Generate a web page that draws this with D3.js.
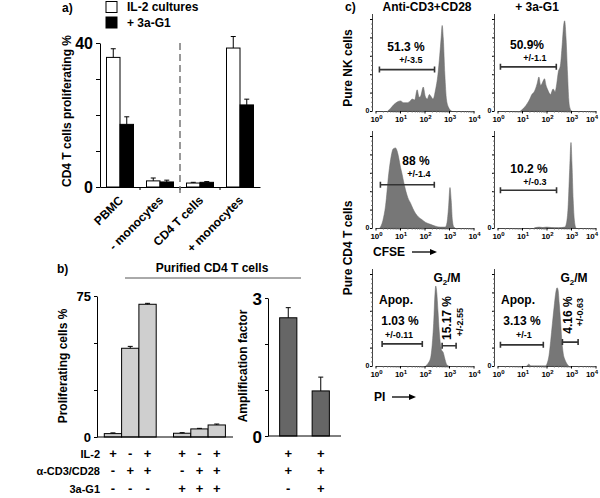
<!DOCTYPE html>
<html><head><meta charset="utf-8">
<script src="https://cdn.jsdelivr.net/npm/d3@7"></script>
<style>
body{margin:0;background:#fff}
svg{display:block}
text{font-family:"Liberation Sans",Arial,sans-serif;font-weight:bold;fill:#000}
</style>
</head><body>
<svg id="c" width="600" height="498"></svg>
<script>
// ---------- DATA ----------
// panel a
const groupsA = ["PBMC", "- monocytes", "CD4 T cells", "+ monocytes"];
const seriesA = ["IL-2 cultures", "+ 3a-G1"];
const il2Values = [36.0, 1.7, 1.1, 38.6];
const il2Errors = [2.4, 0.8, 0.2, 3.2];
const g1Values = [17.4, 1.4, 1.3, 22.8];
const g1Errors = [2.1, 0.5, 0.2, 1.6];
const ticksA = [0, 10, 20, 30, 40];
const tickLabelsA = ["0", "", "", "", "40"];
const yLabelA = "CD4 T cells proliferating %";

// panel b
const condNames = ["IL-2", "α-CD3/CD28", "3a-G1"];
const condIL2 = ["+", "-", "+", "+", "-", "+"];
const condCD3 = ["-", "+", "+", "-", "+", "+"];
const condG1  = ["-", "-", "-", "+", "+", "+"];
const prolifValues = [1.8, 47.2, 70.6, 2.0, 4.3, 6.4];
const prolifErrors = [0.4, 1.0, 0.5, 0.3, 0.3, 0.5];
const ticksB = [0, 25, 50, 75];
const tickLabelsB = ["0", "", "", "75"];
const ampIL2 = ["+", "+"];
const ampCD3 = ["+", "+"];
const ampG1  = ["-", "+"];
const ampValues = [2.57, 0.98];
const ampErrors = [0.22, 0.30];
const ticksAmp = [0, 1, 2, 3];
const tickLabelsAmp = ["0", "", "", "3"];

// panel c : histograms, [log10(fluorescence), relative count]
const nkCtrl = [[0.5,0],[0.62,3],[0.75,7],[0.9,10],[1.02,11],[1.15,9],[1.29,9],[1.42,11],[1.5,13],[1.6,12],[1.7,23],[1.78,15],[1.84,16],[1.95,26],[2.03,16],[2.11,13],[2.2,18],[2.26,16],[2.35,13],[2.45,23],[2.55,40],[2.62,60],[2.68,80],[2.72,93],[2.77,78],[2.83,40],[2.9,12],[2.98,4],[3.1,0]];
const nkG1 = [[0.94,0],[1.1,4],[1.21,8],[1.32,13],[1.4,18],[1.48,20],[1.55,24],[1.62,30],[1.69,37],[1.76,28],[1.82,30],[1.92,35],[1.98,28],[2.05,23],[2.16,18],[2.27,24],[2.35,21],[2.42,30],[2.48,42],[2.57,50],[2.64,72],[2.7,93],[2.74,98],[2.8,78],[2.86,40],[2.91,12],[2.96,3],[3.02,0]];
const cd4Ctrl = [[0.18,0],[0.3,8],[0.41,24],[0.54,59],[0.64,78],[0.72,86],[0.82,87],[0.9,82],[0.95,76],[1.02,66],[1.09,58],[1.15,50],[1.22,42],[1.32,33],[1.43,27],[1.53,21],[1.63,16],[1.75,12],[1.9,9],[2.05,6],[2.24,4],[2.45,2],[2.65,1],[2.85,1],[2.92,6],[2.98,22],[3.04,44],[3.09,30],[3.14,8],[3.2,1],[3.25,0]];
const cd4G1 = [[1.5,0],[1.7,1],[1.85,0.5],[2.0,1],[2.2,0.5],[2.5,0.3],[2.75,1],[2.82,6],[2.88,22],[2.94,60],[3.0,93],[3.04,70],[3.09,30],[3.14,8],[3.2,0]];
const piCtrl = [[2.05,0],[2.15,3],[2.25,9],[2.32,25],[2.38,50],[2.42,75],[2.46,87],[2.5,80],[2.55,60],[2.6,38],[2.65,24],[2.7,17],[2.76,15],[2.82,9],[2.86,5],[2.92,1],[2.98,0]];
const piG1 = [[1.2,0],[1.28,2],[1.36,0],[1.96,0],[2.04,4],[2.1,11],[2.17,27],[2.24,46],[2.31,64],[2.37,78],[2.43,85],[2.47,83],[2.52,68],[2.57,50],[2.62,30],[2.68,14],[2.75,7],[2.82,3],[2.9,0]];
const decades = [0, 1, 2, 3, 4];
const colTitles = ["Anti-CD3+CD28", "+ 3a-G1"];
const rowTitles = ["Pure NK cells", "Pure CD4 T cells"];
// gates [from, to] in log10 units
const nkCtrlGate = [0.16, 2.41], nkG1Gate = [0.12, 2.40];
const cd4CtrlGate = [0.2, 2.4], cd4G1Gate = [0.12, 2.41];
const piCtrlApop = [0.27, 1.91], piCtrlG2 = [2.72, 3.29];
const piG1Apop = [0.12, 1.87], piG1G2 = [2.65, 3.29];
const nkCtrlText = ["51.3 %", "+/-3.5"], nkG1Text = ["50.9%", "+/-1.1"];
const cd4CtrlText = ["88 %", "+/-1.4"], cd4G1Text = ["10.2 %", "+/-0.3"];
const piCtrlText = ["1.03 %", "+/-0.11", "15.17 %", "+/-2.55"];
const piG1Text = ["3.13 %", "+/-1", "4.16 %", "+/-0.63"];

// ---------- DRAW ----------
const svg = d3.select("#c");
function styleAxis(g, fs) {
  g.attr("font-family", null).attr("font-size", null);
  g.selectAll("path,line").attr("stroke", "#000");
  g.selectAll("text").style("font-size", fs + "px");
}
function errBar(g, cx, yTop, yErr, w, color) {
  g.append("path").attr("d", `M${cx},${yTop}V${yErr}M${cx - w},${yErr}H${cx + w}`)
    .attr("stroke", color || "#000").attr("fill", "none");
}

// ===== panel a =====
const A = svg.append("g");
A.append("text").attr("x", 62).attr("y", 12).style("font-size", "12px").text("a)");
seriesA.forEach((s, i) => {
  A.append("rect").attr("x", 106).attr("y", 1.5 + i * 15.5).attr("width", 11).attr("height", 11)
    .attr("fill", i ? "#000" : "#fff").attr("stroke", "#000");
  A.append("text").attr("x", 127).attr("y", 11 + i * 15.5).style("font-size", "12px").text(s);
});
const xA = d3.scaleBand().domain(groupsA).range([100, 260]);
const xASub = d3.scaleBand().domain(seriesA).range([6.5, 33.5]);
const yA = d3.scaleLinear().domain([0, 40]).range([187, 43]);
[[il2Values, il2Errors, "#fff"], [g1Values, g1Errors, "#000"]].forEach(([vals, errs, fill], si) => {
  const s = seriesA[si];
  groupsA.forEach((gname, i) => {
    const x0 = xA(gname) + xASub(s), w = xASub.bandwidth();
    A.append("rect").attr("x", x0).attr("width", w).attr("y", yA(vals[i]))
      .attr("height", yA(0) - yA(vals[i])).attr("fill", fill).attr("stroke", "#000");
    errBar(A, x0 + w / 2, yA(vals[i]), yA(vals[i] + errs[i]), 2.5);
  });
});
const yAxA = A.append("g").attr("transform", "translate(100,0)")
  .call(d3.axisLeft(yA).tickValues(ticksA).tickSize(4).tickSizeOuter(0).tickPadding(3)
    .tickFormat((d, i) => tickLabelsA[i]));
styleAxis(yAxA, 16);
yAxA.selectAll("text").attr("dy", "0.36em");
const xAxA = A.append("g").attr("transform", "translate(0,187)")
  .call(d3.axisBottom(xA).tickSize(0).tickSizeOuter(0));
styleAxis(xAxA, 12);
xAxA.selectAll("text").attr("x", 0).attr("y", 0).attr("dy", 0)
  .attr("transform", "translate(4,14) rotate(-45)").style("text-anchor", "end");
A.selectAll(null).data(xA.domain().slice(1)).join("line")
  .attr("x1", d => xA(d)).attr("x2", d => xA(d)).attr("y1", 187).attr("y2", 190).attr("stroke", "#000");
A.append("line").attr("x1", xA(groupsA[2])).attr("x2", xA(groupsA[2])).attr("y1", 43).attr("y2", 195)
  .attr("stroke", "#777").attr("stroke-width", 1.5).attr("stroke-dasharray", "7,4");
A.append("text").attr("transform", "translate(67,111) rotate(-90)").attr("dy", "0.35em")
  .style("text-anchor", "middle").style("font-size", "12px").text(yLabelA);

// ===== panel b =====
const B = svg.append("g");
B.append("text").attr("x", 57).attr("y", 273).style("font-size", "12px").text("b)");
B.append("text").attr("x", 212).attr("y", 272).style("text-anchor", "middle").style("font-size", "12px").text("Purified CD4 T cells");
B.append("line").attr("x1", 125).attr("x2", 301).attr("y1", 278).attr("y2", 278).attr("stroke", "#555");

const slotB = d3.scaleBand().domain(d3.range(7)).range([104.3, 225.4]);
const posB = i => slotB(i < 3 ? i : i + 1);
const yB = d3.scaleLinear().domain([0, 75]).range([437, 296]);
prolifValues.forEach((v, i) => {
  const x0 = posB(i), w = slotB.bandwidth();
  B.append("rect").attr("x", x0).attr("width", w).attr("y", yB(v)).attr("height", yB(0) - yB(v))
    .attr("fill", "#cfcfcf").attr("stroke", "#000");
  errBar(B, x0 + w / 2, yB(v), yB(v + prolifErrors[i]), 2.5);
});
const yAxB = B.append("g").attr("transform", "translate(97,0)")
  .call(d3.axisLeft(yB).tickValues(ticksB).tickSize(3).tickSizeOuter(0).tickPadding(3)
    .tickFormat((d, i) => tickLabelsB[i]));
styleAxis(yAxB, 13);
yAxB.selectAll("text").attr("dy", "0.36em");
B.append("line").attr("x1", 97).attr("x2", 233).attr("y1", 437).attr("y2", 437).attr("stroke", "#000");
B.append("text").attr("transform", "translate(63,366) rotate(-90)").attr("dy", "0.35em")
  .style("text-anchor", "middle").style("font-size", "12px").text("Proliferating cells %");

const rowY = [458, 475, 493];
condNames.forEach((n, r) => {
  B.append("text").attr("x", 100).attr("y", rowY[r]).style("text-anchor", "end").style("font-size", "11px").text(n);
});
[condIL2, condCD3, condG1].forEach((row, r) => {
  row.forEach((s, i) => {
    B.append("text").attr("x", posB(i) + slotB.bandwidth() / 2).attr("y", rowY[r])
      .style("text-anchor", "middle").style("font-size", "13px").text(s);
  });
});

const xAmp = d3.scaleBand().domain(d3.range(ampValues.length)).range([272, 337]).paddingInner(0.47).paddingOuter(0.235);
const yAmp = d3.scaleLinear().domain([0, 3]).range([436, 298]);
ampValues.forEach((v, i) => {
  const x0 = xAmp(i), w = xAmp.bandwidth();
  B.append("rect").attr("x", x0).attr("width", w).attr("y", yAmp(v)).attr("height", yAmp(0) - yAmp(v))
    .attr("fill", "#666").attr("stroke", "#000");
  errBar(B, x0 + w / 2, yAmp(v), yAmp(v + ampErrors[i]), 2.5);
});
const yAxAmp = B.append("g").attr("transform", "translate(268,0)")
  .call(d3.axisLeft(yAmp).tickValues(ticksAmp).tickSize(3).tickSizeOuter(0).tickPadding(3)
    .tickFormat((d, i) => tickLabelsAmp[i]));
styleAxis(yAxAmp, 17);
yAxAmp.selectAll("text").attr("dy", "0.36em");
B.append("line").attr("x1", 268).attr("x2", 341).attr("y1", 436).attr("y2", 436).attr("stroke", "#000");
B.append("text").attr("transform", "translate(243,366) rotate(-90)").attr("dy", "0.35em")
  .style("text-anchor", "middle").style("font-size", "12px").text("Amplification factor");
[ampIL2, ampCD3, ampG1].forEach((row, r) => {
  row.forEach((s, i) => {
    B.append("text").attr("x", xAmp(i) + xAmp.bandwidth() / 2).attr("y", rowY[r])
      .style("text-anchor", "middle").style("font-size", "13px").text(s);
  });
});

// ===== panel c =====
const C = svg.append("g");
C.append("text").attr("x", 345).attr("y", 11).style("font-size", "12px").text("c)");
[427, 537].forEach((cx, i) => C.append("text").attr("x", cx).attr("y", 11)
  .style("text-anchor", "middle").style("font-size", "12px").text(colTitles[i]));
[[348, 68], [348, 248]].forEach(([cx, cy], i) => C.append("text")
  .attr("transform", `translate(${cx},${cy}) rotate(-90)`).attr("dy", "0.35em")
  .style("text-anchor", "middle").style("font-size", "12px").text(rowTitles[i]));

function histPanel(data, x0, base) {
  const g = C.append("g");
  const x = d3.scaleLog().domain([1, 1e4]).range([x0, x0 + 98]);
  const y = d3.scaleLinear().domain([0, 100]).range([base, base - 92]);
  const area = d3.area().x(d => x(Math.pow(10, d[0]))).y0(base).y1(d => y(d[1])).curve(d3.curveMonotoneX);
  g.append("path").datum(data).attr("d", area).attr("fill", "#777").attr("stroke", "#666").attr("stroke-width", 0.5);
  const yax = g.append("g").attr("transform", `translate(${x0 - 3},0)`)
    .call(d3.axisLeft(y).tickValues(d3.range(0, 101, 20)).tickSize(2.5).tickSizeOuter(0).tickFormat(""));
  styleAxis(yax, 7);
  yax.select(".domain").attr("d", `M0,${base}V${base - 97}`).attr("stroke", "#444");
  const yminor = g.append("g").attr("transform", `translate(${x0 - 3},0)`)
    .call(d3.axisLeft(y).tickValues(d3.range(5, 100, 5)).tickSize(1.3).tickFormat(""));
  yminor.select(".domain").remove();
  yminor.selectAll("line").attr("stroke", "#666");
  g.append("text").attr("x", x0 - 6).attr("y", base + 2).style("text-anchor", "end").style("font-size", "7px").text("0");
  const xax = g.append("g").attr("transform", `translate(0,${base})`)
    .call(d3.axisBottom(x).tickValues(decades.map(k => Math.pow(10, k))).tickSize(2.5).tickSizeOuter(0).tickFormat(""));
  styleAxis(xax, 8);
  xax.select(".domain").attr("stroke", "#444");
  const minors = [];
  for (let k = 0; k < 4; k++) for (let m = 2; m < 10; m++) minors.push(m * Math.pow(10, k));
  const xminor = g.append("g").attr("transform", `translate(0,${base})`)
    .call(d3.axisBottom(x).tickValues(minors).tickSize(1.5).tickFormat(""));
  xminor.select(".domain").remove();
  xminor.selectAll("line").attr("stroke", "#666");
  decades.forEach(k => {
    const t = g.append("text").attr("x", Math.min(x(Math.pow(10, k)) + 1, 592)).attr("y", base + 11)
      .style("text-anchor", "middle").style("font-size", "8px");
    t.append("tspan").text("10");
    t.append("tspan").attr("dy", -3.5).style("font-size", "6px").text(k);
  });
  return { g, x, y };
}
function gate(p, range, yv) {
  const xa = p.x(Math.pow(10, range[0])), xb = p.x(Math.pow(10, range[1])), yy = p.y(yv);
  p.g.append("path").attr("d", `M${xa},${yy}H${xb}M${xa},${yy - 3}V${yy + 3}M${xb},${yy - 3}V${yy + 3}`)
    .attr("stroke", "#333").attr("stroke-width", 1.6).attr("fill", "none");
}
function label(p, x, y, txt, fs, rot) {
  const t = p.g.append("text").style("text-anchor", "middle").style("font-size", fs + "px").text(txt);
  if (rot) t.attr("transform", `translate(${x},${y}) rotate(-90)`).attr("dy", "0.35em");
  else t.attr("x", x).attr("y", y);
  return t;
}
const LX = 375.5, RX = 497.5;
// row 1
const p1 = histPanel(nkCtrl, LX, 111);
gate(p1, nkCtrlGate, 45);
label(p1, 406, 51, nkCtrlText[0], 12); label(p1, 411, 63, nkCtrlText[1], 9);
const p2 = histPanel(nkG1, RX, 111);
gate(p2, nkG1Gate, 48);
label(p2, 527, 49, nkG1Text[0], 12); label(p2, 535, 61, nkG1Text[1], 9);
// row 2
const p3 = histPanel(cd4Ctrl, LX, 228);
gate(p3, cd4CtrlGate, 47);
label(p3, 416, 165, cd4CtrlText[0], 12); label(p3, 419, 177, cd4CtrlText[1], 9);
const p4 = histPanel(cd4G1, RX, 228);
gate(p4, cd4G1Gate, 41);
label(p4, 529, 173, cd4G1Text[0], 12); label(p4, 535, 185, cd4G1Text[1], 9);
C.append("text").attr("x", 373).attr("y", 256).style("font-size", "12px").text("CFSE");
C.append("path").attr("d", "M412,252H432").attr("stroke", "#000").attr("stroke-width", 1.3);
C.append("path").attr("d", "M437,252L430,249L430,255Z").attr("fill", "#000");
// row 3
const p5 = histPanel(piCtrl, LX, 366);
gate(p5, piCtrlApop, 24); gate(p5, piCtrlG2, 22);
const g2a = label(p5, 447, 282, "", 12); g2a.append("tspan").text("G");
g2a.append("tspan").attr("dy", 3).style("font-size", "8px").text("2");
g2a.append("tspan").attr("dy", -3).text("/M");
label(p5, 396, 304, "Apop.", 12);
label(p5, 400, 325, piCtrlText[0], 12); label(p5, 399, 338, piCtrlText[1], 9);
label(p5, 447, 318, piCtrlText[2], 12, true); label(p5, 460, 322, piCtrlText[3], 9, true);
const p6 = histPanel(piG1, RX, 366);
gate(p6, piG1Apop, 23); gate(p6, piG1G2, 26);
const g2b = label(p6, 574, 282, "", 12); g2b.append("tspan").text("G");
g2b.append("tspan").attr("dy", 3).style("font-size", "8px").text("2");
g2b.append("tspan").attr("dy", -3).text("/M");
label(p6, 518, 304, "Apop.", 12);
label(p6, 522, 325, piG1Text[0], 12); label(p6, 524, 338, piG1Text[1], 9);
label(p6, 568, 315, piG1Text[2], 12, true); label(p6, 580, 312, piG1Text[3], 9, true);
C.append("text").attr("x", 374).attr("y", 401).style("font-size", "12px").text("PI");
C.append("path").attr("d", "M392,397H411").attr("stroke", "#000").attr("stroke-width", 1.3);
C.append("path").attr("d", "M416,397L409,394L409,400Z").attr("fill", "#000");
</script>
</body></html>
